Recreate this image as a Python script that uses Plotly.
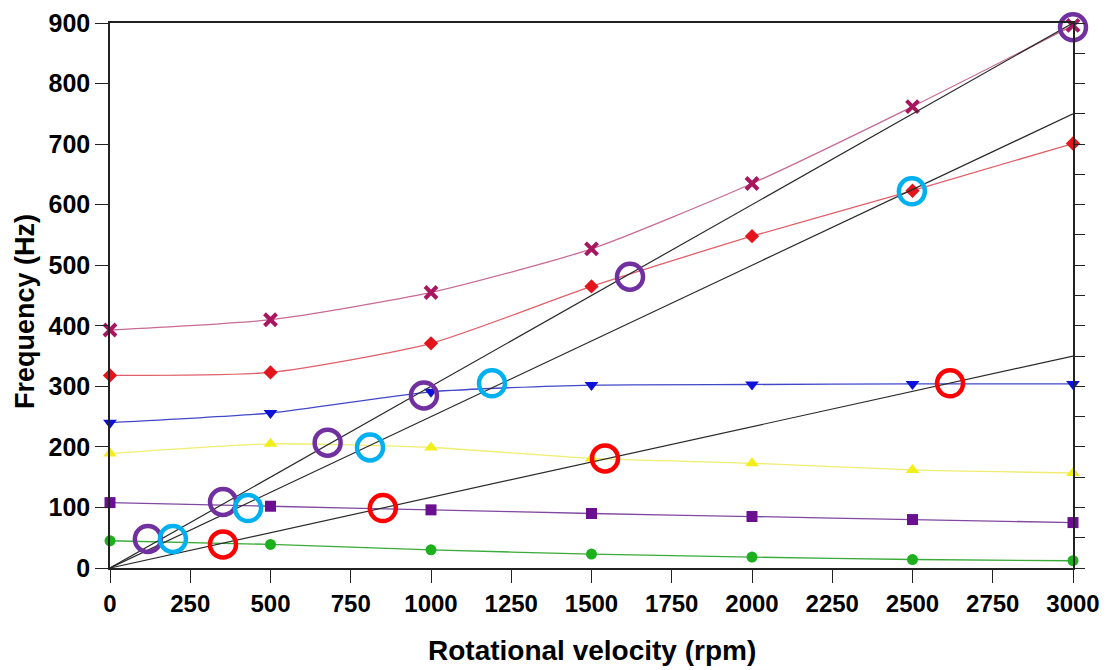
import plotly.graph_objects as go

rpm = [0, 500, 1000, 1500, 2000, 2500, 3000]

mode6 = [393, 410, 455, 527, 635, 762, 896]     # crimson x
mode5 = [318, 323, 371, 465, 548, 623, 701]     # red diamond
mode4 = [240, 256, 291, 302, 303, 304, 304]     # blue triangle-down
mode3 = [189, 205, 199, 181, 173, 162, 157]     # yellow triangle-up
mode2 = [108, 102, 96, 90, 85, 80, 75]          # purple square
mode1 = [45, 39, 30, 23, 18, 14, 12]            # green circle

order_rpm = [0, 3000]
order_lines = {"18x": [0, 900], "15x": [0, 750], "7x": [0, 350]}

purple_x = [118, 352, 678, 978, 1620, 3000]
purple_y = [48, 109, 207, 285, 481, 893]
cyan_x = [196, 430, 810, 1190, 2498]
cyan_y = [48, 99, 199, 305, 622]
red_x = [352, 850, 1542, 2617]
red_y = [39, 99, 181, 305]

FONT = "Liberation Sans, Arial, sans-serif"

fig = go.Figure()

series = [
    (mode6, "x-thin", "#A8165F", "#C86A95", 11),
    (mode5, "diamond", "#E3141C", "#E0606A", 11),
    (mode4, "triangle-down", "#0C10D8", "#4048C8", 12),
    (mode3, "triangle-up", "#F2EE1A", "#F0EE70", 12),
    (mode2, "square", "#6A0F90", "#8048A0", 11),
    (mode1, "circle", "#1DB01D", "#3AAA3A", 11),
]
for ys, sym, mc, lc, sz in series:
    marker = dict(symbol=sym, color=mc, size=sz)
    if sym == "x-thin":
        marker = dict(symbol="x-thin", size=12, line=dict(color=mc, width=4))
    fig.add_trace(go.Scatter(x=rpm, y=ys, mode="lines+markers",
                             line=dict(color=lc, width=1.3, shape="spline", smoothing=0.6),
                             marker=marker, showlegend=False, cliponaxis=False))

for name, ys in order_lines.items():
    fig.add_trace(go.Scatter(x=order_rpm, y=ys, mode="lines",
                             line=dict(color="#2a2a2a", width=1.2), showlegend=False))

for xs, ys, c in [(purple_x, purple_y, "#7030A0"), (cyan_x, cyan_y, "#00B0F0"), (red_x, red_y, "#FF0000")]:
    fig.add_trace(go.Scatter(x=xs, y=ys, mode="markers", cliponaxis=False,
                             marker=dict(symbol="circle-open", size=26, color=c, line=dict(color=c, width=4.5)),
                             showlegend=False))

fig.add_trace(go.Scatter(x=[], y=[], yaxis="y2", showlegend=False))

fig.update_layout(
    width=1106, height=670,
    margin=dict(l=110, r=33, t=23, b=102),
    plot_bgcolor="white", paper_bgcolor="white",
    font=dict(family=FONT, color="black"),
    xaxis=dict(range=[0, 3000], tickvals=list(range(0, 3001, 250)), automargin=False,
               showgrid=False, zeroline=False, showline=True, linecolor="#222", linewidth=1.5,
               mirror=True, ticks="outside", ticklen=13, tickcolor="#222", tickwidth=1.2,
               tickfont=dict(size=24, family=FONT, weight="bold")),
    yaxis=dict(range=[0, 900], tickvals=list(range(0, 901, 100)), automargin=False,
               showgrid=False, zeroline=False, showline=True, linecolor="#222", linewidth=1.5,
               ticks="outside", ticklen=13, tickcolor="#222", tickwidth=1.2,
               tickfont=dict(size=25, family=FONT, weight="bold")),
    yaxis2=dict(range=[0, 900], overlaying="y", side="right", tickvals=list(range(0, 901, 50)),
                automargin=False,
                showgrid=False, zeroline=False, showline=True, linecolor="#222", linewidth=1.5,
                ticks="outside", ticklen=10, tickcolor="#222", tickwidth=1.2, showticklabels=False),
    annotations=[
        dict(text="<b>Rotational velocity (rpm)</b>", xref="paper", yref="paper",
             x=0.5, y=-(650 - 568) / 545, xanchor="center", yanchor="middle", showarrow=False,
             font=dict(size=28, family=FONT, color="black")),
        dict(text="<b>Frequency (Hz)</b>", xref="paper", yref="paper", textangle=-90,
             x=(25 - 110) / 963, y=(568 - 312) / 545, xanchor="center", yanchor="middle", showarrow=False,
             font=dict(size=27, family=FONT, color="black")),
    ],
)

fig.write_html("out.html", config={"displayModeBar": False},
               post_script="document.body.style.margin='0';document.body.style.overflow='hidden';")
